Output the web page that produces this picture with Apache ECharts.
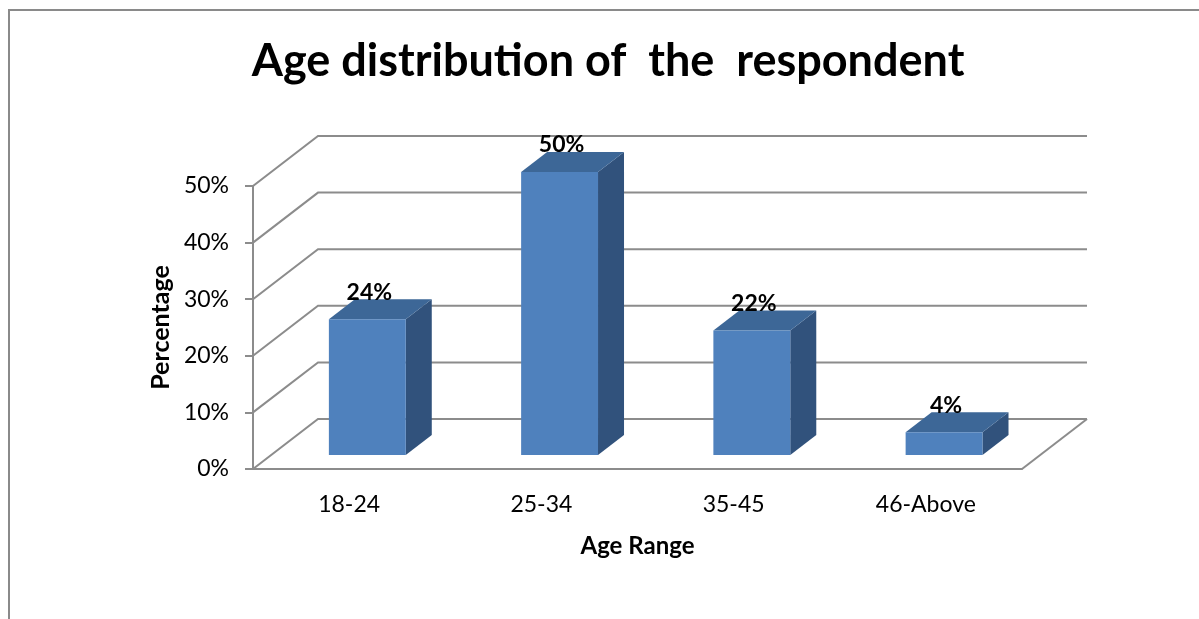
<!DOCTYPE html>
<html>
<head>
<meta charset="utf-8">
<script src="https://cdn.jsdelivr.net/npm/echarts@6/dist/echarts.min.js"></script>
<style>
  html, body { margin: 0; padding: 0; background: #fff; }
  #chart { width: 1199px; height: 619px; }
</style>
</head>
<body>
<div id="chart"></div>
<script>
// chart data
const ageRanges = ["18-24", "25-34", "35-45", "46-Above"];
const percentages = [24, 50, 22, 4];
const yTicks = [0, 10, 20, 30, 40, 50];

const FONT = "Lato";
const GRID_COLOR = "#8c8c8c";

// 3d look: how far the back wall sits behind the front plane
const DEPTH_X = 65;
const DEPTH_Y = -50;
const BAR_FRONT = 0.28; // bar front face, as a fraction of the depth
const BAR_DEPTH = 0.4;  // bar thickness, as a fraction of the depth
const BAR_WIDTH = 0.4;  // bar width, as a fraction of the band

const chart = echarts.init(document.getElementById("chart"));

// back wall, left wall and floor
const renderWalls = (params, api) => {
  const cs = params.coordSys;
  const v = api.value(0);
  const left = cs.x;
  const right = cs.x + cs.width;
  const y = api.coord([0, v])[1];
  const style = { stroke: GRID_COLOR, lineWidth: 2, fill: null };
  const children = [
    {
      type: "polyline",
      shape: { points: [[left, y], [left + DEPTH_X, y + DEPTH_Y], [right + DEPTH_X, y + DEPTH_Y]] },
      style,
    },
  ];
  if (v === 0) {
    children.push({
      type: "line",
      shape: { x1: right, y1: y, x2: right + DEPTH_X, y2: y + DEPTH_Y },
      style,
    });
  }
  return { type: "group", children };
};

// one 3d bar per category
const renderBar = (params, api) => {
  const idx = api.value(0);
  const val = api.value(1);
  const band = api.size([1, 0])[0];
  const base = api.coord([idx, 0]);
  const top = api.coord([idx, val]);
  const w = band * BAR_WIDTH;
  const ox = DEPTH_X * BAR_FRONT;
  const oy = DEPTH_Y * BAR_FRONT;
  const dx = DEPTH_X * BAR_DEPTH;
  const dy = DEPTH_Y * BAR_DEPTH;
  const x0 = base[0] - w / 2 + ox;
  const x1 = x0 + w;
  const yb = base[1] + oy;
  const yt = top[1] + oy;
  return {
    type: "group",
    children: [
      {
        type: "polygon",
        shape: { points: [[x1, yb], [x1 + dx, yb + dy], [x1 + dx, yt + dy], [x1, yt]] },
        style: { fill: "#31527c" },
      },
      {
        type: "polygon",
        shape: { points: [[x0, yt], [x1, yt], [x1 + dx, yt + dy], [x0 + dx, yt + dy]] },
        style: { fill: "#3d6797" },
      },
      {
        type: "rect",
        shape: { x: x0, y: yt, width: w, height: yb - yt },
        style: { fill: "#4f81bd" },
      },
      {
        type: "text",
        x: (x0 + x1) / 2 + 2,
        y: yt - 27,
        style: {
          text: val + "%",
          fill: "#000",
          font: "bold 23px " + FONT,
          align: "center",
          verticalAlign: "middle",
        },
      },
    ],
  };
};

const option = {
  animation: false,
  backgroundColor: "#fff",
  textStyle: { fontFamily: FONT },
  title: {
    text: "Age distribution of  the  respondent",
    left: 603,
    textAlign: "center",
    top: 34,
    textStyle: { fontFamily: FONT, fontWeight: "bold", fontSize: 45, color: "#000" },
  },
  graphic: [
    {
      type: "rect",
      shape: { x: 9, y: 10, width: 1400, height: 800 },
      style: { fill: null, stroke: "#8a8a8a", lineWidth: 2 },
      silent: true,
    },
  ],
  grid: { left: 253, right: 177, top: 186, bottom: 150 },
  xAxis: {
    type: "category",
    data: ageRanges,
    axisLine: { show: true, lineStyle: { color: GRID_COLOR, width: 2 } },
    axisTick: { show: false },
    axisLabel: { color: "#000", fontSize: 23, fontFamily: FONT, margin: 24 },
    name: "Age Range",
    nameLocation: "middle",
    nameGap: 65,
    nameTextStyle: { color: "#000", fontSize: 24, fontWeight: "bold", fontFamily: FONT },
  },
  yAxis: {
    type: "value",
    min: 0,
    max: 50,
    interval: 10,
    axisLine: { show: true, lineStyle: { color: GRID_COLOR, width: 2 } },
    axisTick: { show: true, length: 8, lineStyle: { color: GRID_COLOR, width: 2 } },
    splitLine: { show: false },
    axisLabel: { color: "#000", fontSize: 23, fontFamily: FONT, margin: 24, formatter: "{value}%" },
    name: "Percentage",
    nameLocation: "middle",
    nameRotate: 90,
    nameGap: 79,
    nameTextStyle: { color: "#000", fontSize: 25, fontWeight: "bold", fontFamily: FONT },
  },
  series: [
    {
      type: "custom",
      renderItem: renderWalls,
      data: yTicks.map((t) => [t]),
      encode: { y: 0 },
      silent: true,
      z: 1,
    },
    {
      type: "custom",
      renderItem: renderBar,
      data: percentages.map((p, i) => [i, p]),
      encode: { x: 0, y: 1 },
      z: 2,
    },
  ],
};

chart.setOption(option);
</script>
</body>
</html>
